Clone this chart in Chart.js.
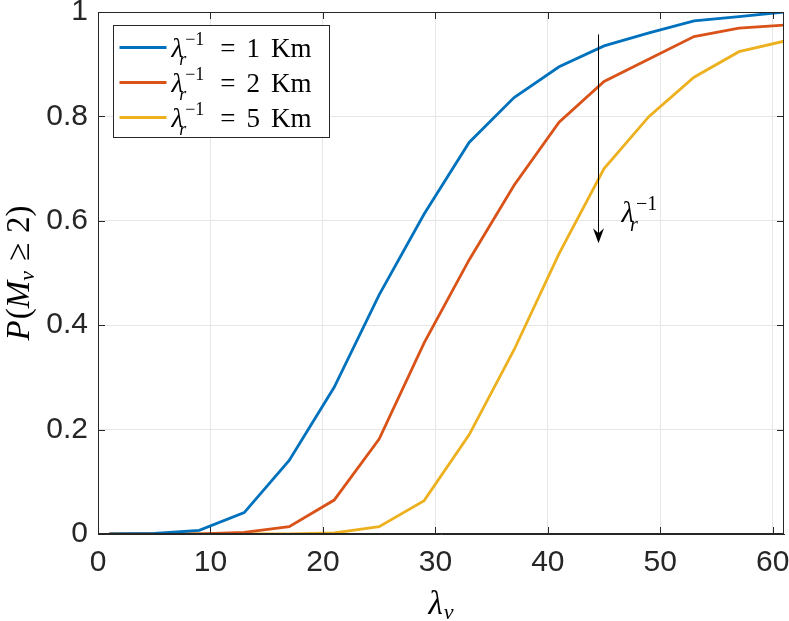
<!DOCTYPE html>
<html>
<head>
<meta charset="utf-8">
<script src="https://cdn.jsdelivr.net/npm/chart.js@4"></script>
<style>
  html, body { margin: 0; padding: 0; background: #fff; }
  #wrap { width: 789px; height: 621px; }
</style>
</head>
<body>
<div id="wrap"><canvas id="chart" width="789" height="621"></canvas></div>
<script>
// data
const lambdaV = [1, 5, 9, 13, 17, 21, 25, 29, 33, 37, 41, 45, 49, 53, 57, 61];
const p1Km = [0, 0.001, 0.007, 0.041, 0.141, 0.281, 0.458, 0.613, 0.750, 0.836, 0.895, 0.935, 0.960, 0.983, 0.991, 1.0];
const p2Km = [0, 0, 0, 0.003, 0.014, 0.065, 0.182, 0.366, 0.525, 0.668, 0.789, 0.867, 0.910, 0.953, 0.969, 0.975];
const p5Km = [0, 0, 0, 0, 0, 0.002, 0.014, 0.064, 0.190, 0.353, 0.537, 0.700, 0.800, 0.875, 0.924, 0.944];
const seriesKm = ['1', '2', '5'];
const colors = ['#0072BD', '#D95319', '#EDB120'];
const xTicks = [0, 10, 20, 30, 40, 50, 60];
const yTicks = [0, 0.2, 0.4, 0.6, 0.8, 1];

// arrow annotation (data units)
const arrowX = 44.5, arrowTop = 0.957, arrowTip = 0.557;

const axisColor = '#262626';
const serif = '"Liberation Serif", "DejaVu Serif", serif';
const sans = '"Liberation Sans", Arial, sans-serif';

function toPts(ys) {
  return lambdaV.map((x, i) => ({ x: x, y: ys[i] }));
}

// draws text pieces one after another (for sub/superscripts)
function drawRich(ctx, segs, x, y, align) {
  let total = 0;
  segs.forEach(s => {
    ctx.font = s.f;
    s.w = ctx.measureText(s.t).width;
    if (s.adv !== false) total += s.w + (s.dx || 0);
  });
  let cx = align === 'center' ? x - total / 2 : x;
  ctx.textBaseline = 'alphabetic';
  ctx.textAlign = 'left';
  segs.forEach(s => {
    ctx.font = s.f;
    ctx.fillText(s.t, cx + (s.dx || 0), y + (s.dy || 0));
    if (s.adv !== false) cx += s.w + (s.dx || 0);
  });
}

function lambdaR(size) {
  const small = Math.round(size * 0.68);
  return [
    { t: 'λ', f: 'italic ' + size + 'px ' + serif },
    { t: 'r', f: 'italic ' + small + 'px ' + serif, dx: -4, dy: size * 0.3, adv: false },
    { t: '−1', f: small + 'px ' + serif, dx: 2, dy: -size * 0.42 }
  ];
}

const decorPlugin = {
  id: 'decor',
  afterDraw(chart) {
    const ctx = chart.ctx;
    const a = chart.chartArea;
    const xs = chart.scales.x, ys = chart.scales.y;
    ctx.save();

    // box + inward ticks
    ctx.strokeStyle = axisColor;
    ctx.lineWidth = 1;
    ctx.strokeRect(a.left + 0.5, a.top + 0.5, a.right - a.left - 1, a.bottom - a.top - 1);
    ctx.beginPath();
    xTicks.forEach(v => {
      const px = Math.round(xs.getPixelForValue(v)) + 0.5;
      ctx.moveTo(px, a.bottom); ctx.lineTo(px, a.bottom - 7);
      ctx.moveTo(px, a.top); ctx.lineTo(px, a.top + 7);
    });
    yTicks.forEach(v => {
      const py = Math.round(ys.getPixelForValue(v)) + 0.5;
      ctx.moveTo(a.left, py); ctx.lineTo(a.left + 7, py);
      ctx.moveTo(a.right, py); ctx.lineTo(a.right - 7, py);
    });
    ctx.stroke();

    // arrow
    const ax = Math.round(xs.getPixelForValue(arrowX)) + 0.5;
    const ay0 = ys.getPixelForValue(arrowTop);
    const ay1 = ys.getPixelForValue(arrowTip);
    ctx.strokeStyle = '#000';
    ctx.beginPath();
    ctx.moveTo(ax, ay0); ctx.lineTo(ax, ay1 - 6);
    ctx.stroke();
    ctx.fillStyle = '#000';
    ctx.beginPath();
    ctx.moveTo(ax, ay1);
    ctx.lineTo(ax - 5.5, ay1 - 15);
    ctx.lineTo(ax, ay1 - 10);
    ctx.lineTo(ax + 5.5, ay1 - 15);
    ctx.closePath();
    ctx.fill();
    drawRich(ctx, lambdaR(29), ax + 23, ay1 - 21, 'left');

    // legend
    const lx = a.left + 15.5, ly = a.top + 13.5, lw = 216, lh = 112;
    ctx.fillStyle = '#fff';
    ctx.fillRect(lx, ly, lw, lh);
    ctx.strokeStyle = axisColor;
    ctx.lineWidth = 1;
    ctx.strokeRect(lx, ly, lw, lh);
    chart.data.datasets.forEach((ds, i) => {
      const ry = ly + 22 + i * 35;
      ctx.strokeStyle = ds.borderColor;
      ctx.lineWidth = 3;
      ctx.beginPath();
      ctx.moveTo(lx + 6, ry); ctx.lineTo(lx + 53, ry);
      ctx.stroke();
      ctx.fillStyle = '#000';
      drawRich(ctx, lambdaR(27).concat([
        { t: '=', f: '27px ' + serif, dx: 16 },
        { t: seriesKm[i], f: '27px ' + serif, dx: 11 },
        { t: 'Km', f: '27px ' + serif, dx: 11 }
      ]), lx + 58, ry + 9, 'left');
    });

    // axis titles
    ctx.fillStyle = '#000';
    drawRich(ctx, [
      { t: 'λ', f: 'italic 33px ' + serif },
      { t: 'v', f: 'italic 22px ' + serif, dx: 1, dy: 5 }
    ], (a.left + a.right) / 2, 614, 'center');

    ctx.translate(29, (a.top + a.bottom) / 2);
    ctx.rotate(-Math.PI / 2);
    drawRich(ctx, [
      { t: 'P', f: 'italic 33px ' + serif },
      { t: '(', f: '33px ' + serif, dx: 1 },
      { t: 'M', f: 'italic 33px ' + serif },
      { t: 'v', f: 'italic 22px ' + serif, dy: 5 },
      { t: '≥', f: '33px ' + serif, dx: 10 },
      { t: '2)', f: '33px ' + serif, dx: 10 }
    ], 0, 0, 'center');
    ctx.restore();
  }
};

const datasets = [p1Km, p2Km, p5Km].map((ys, i) => ({
  label: 'λr⁻¹ = ' + seriesKm[i] + ' Km',
  data: toPts(ys),
  borderColor: colors[i],
  backgroundColor: colors[i],
  borderWidth: 2.8,
  pointRadius: 0,
  tension: 0,
  fill: false
}));

new Chart(document.getElementById('chart'), {
  type: 'line',
  data: { datasets: datasets },
  options: {
    responsive: false,
    animation: false,
    layout: { padding: { top: 12, right: 5, left: 0, bottom: 0 } },
    plugins: { legend: { display: false }, tooltip: { enabled: false } },
    scales: {
      x: {
        type: 'linear',
        min: 0, max: 61,
        afterBuildTicks: s => { s.ticks = xTicks.map(v => ({ value: v })); },
        ticks: { font: { family: sans, size: 30 }, color: axisColor, padding: 11, maxRotation: 0 },
        grid: { color: '#e6e6e6', drawTicks: false },
        border: { color: axisColor },
        afterFit: s => { s.height = 87; s.paddingLeft = 0; s.paddingRight = 0; }
      },
      y: {
        min: 0, max: 1,
        afterBuildTicks: s => { s.ticks = yTicks.map(v => ({ value: v })); },
        ticks: { font: { family: sans, size: 30 }, color: axisColor, padding: 10,
                 callback: v => String(+v.toFixed(1)) },
        grid: { color: '#e6e6e6', drawTicks: false },
        border: { color: axisColor },
        afterFit: s => { s.width = 98; s.paddingTop = 0; s.paddingBottom = 0; }
      }
    }
  },
  plugins: [decorPlugin]
});
</script>
</body>
</html>
